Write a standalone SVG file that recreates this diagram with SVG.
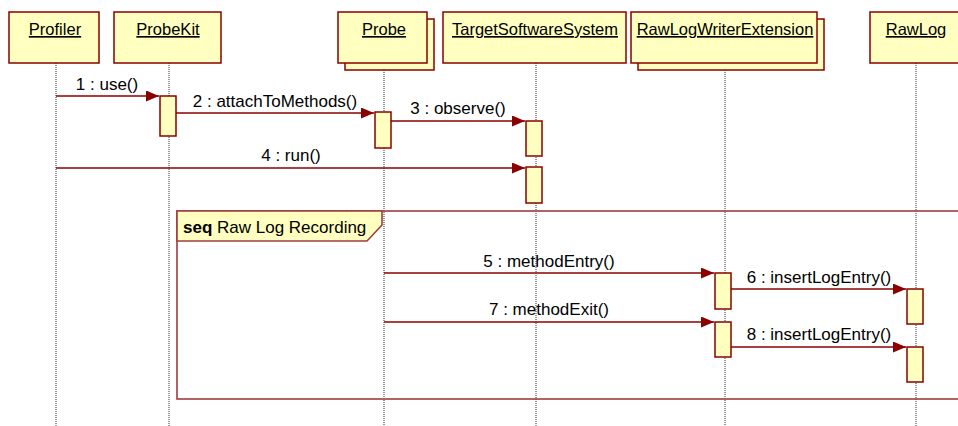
<svg xmlns="http://www.w3.org/2000/svg" width="958" height="426" viewBox="0 0 958 426">
  <style>
    .box { fill: #ffffc0; stroke: #8b0000; stroke-width: 1.5; }
    .act { fill: #ffffc0; stroke: #8b0000; stroke-width: 1.5; }
    .life { stroke: #333333; stroke-width: 1; stroke-dasharray: 1 1; fill: none; }
    .msg { stroke: #8b0000; stroke-width: 1.3; fill: none; }
    .frame { fill: none; stroke: #a03c3c; stroke-width: 1.6; }
    .tab { fill: #ffffc0; stroke: #a03c3c; stroke-width: 1.6; }
    text { font-family: "Liberation Sans", Arial, sans-serif; font-size: 17px; fill: #000; }
    .name { text-anchor: middle; text-decoration: underline; font-size: 16.5px; }
    .lbl { text-anchor: middle; }
  </style>
  <defs>
    <marker id="arrow" markerUnits="userSpaceOnUse" markerWidth="14" markerHeight="12" refX="13" refY="5.5" orient="auto">
      <path d="M0,0 L13,5.5 L0,11 Z" fill="#8b0000"/>
    </marker>
  </defs>
  <rect width="958" height="426" fill="#ffffff"/>

  <!-- lifelines -->
  <g id="lifelines">
    <line class="life" x1="56" y1="63" x2="56" y2="426"/>
    <line class="life" x1="169" y1="63" x2="169" y2="426"/>
    <line class="life" x1="384" y1="70" x2="384" y2="426"/>
    <line class="life" x1="536" y1="63" x2="536" y2="426"/>
    <line class="life" x1="725" y1="70" x2="725" y2="426"/>
    <line class="life" x1="916" y1="63" x2="916" y2="426"/>
  </g>

  <!-- combined fragment -->
  <g id="seq-frame">
    <rect class="frame" x="177" y="211" width="800" height="188"/>
    <polygon class="tab" points="177,211 382,211 382,225 367,241 177,241"/>
    <text x="183" y="233" font-size="16px"><tspan font-weight="bold">seq</tspan> Raw Log Recording</text>
  </g>

  <!-- participants -->
  <g id="profiler">
    <rect class="box" x="9" y="12" width="90" height="51"/>
    <text class="name" x="55" y="35">Profiler</text>
  </g>
  <g id="probekit">
    <rect class="box" x="114" y="12" width="107" height="51"/>
    <text class="name" x="168" y="35">ProbeKit</text>
    <rect class="act" x="160" y="96" width="16" height="40"/>
  </g>
  <g id="probe">
    <rect class="box" x="345" y="19" width="89" height="51"/>
    <rect class="box" x="338" y="12" width="89" height="51"/>
    <text class="name" x="384" y="35">Probe</text>
    <rect class="act" x="375" y="112" width="16" height="36"/>
  </g>
  <g id="targetsoftwaresystem">
    <rect class="box" x="443" y="12" width="183" height="51"/>
    <text class="name" x="535" y="35">TargetSoftwareSystem</text>
    <rect class="act" x="526" y="121" width="16" height="35"/>
    <rect class="act" x="526" y="167" width="16" height="36"/>
  </g>
  <g id="rawlogwriterextension">
    <rect class="box" x="638" y="19" width="186" height="51"/>
    <rect class="box" x="631" y="12" width="186" height="51"/>
    <text class="name" x="725" y="35">RawLogWriterExtension</text>
    <rect class="act" x="715" y="273" width="16" height="36"/>
    <rect class="act" x="715" y="322" width="16" height="35"/>
  </g>
  <g id="rawlog">
    <rect class="box" x="870" y="12" width="92" height="51"/>
    <text class="name" x="916" y="35">RawLog</text>
    <rect class="act" x="907" y="289" width="16" height="35"/>
    <rect class="act" x="907" y="347" width="16" height="35"/>
  </g>

  <!-- messages -->
  <g id="messages">
    <line class="msg" x1="56" y1="96" x2="159" y2="96" marker-end="url(#arrow)"/>
    <text class="lbl" x="107" y="90">1 : use()</text>
    <line class="msg" x1="176" y1="113" x2="374" y2="113" marker-end="url(#arrow)"/>
    <text class="lbl" x="275" y="107">2 : attachToMethods()</text>
    <line class="msg" x1="391" y1="121" x2="525" y2="121" marker-end="url(#arrow)"/>
    <text class="lbl" x="458" y="114">3 : observe()</text>
    <line class="msg" x1="56" y1="168" x2="525" y2="168" marker-end="url(#arrow)"/>
    <text class="lbl" x="291" y="161">4 : run()</text>
    <line class="msg" x1="384" y1="273" x2="714" y2="273" marker-end="url(#arrow)"/>
    <text class="lbl" x="549" y="267">5 : methodEntry()</text>
    <line class="msg" x1="731" y1="289" x2="906" y2="289" marker-end="url(#arrow)"/>
    <text class="lbl" x="819" y="283">6 : insertLogEntry()</text>
    <line class="msg" x1="384" y1="322" x2="714" y2="322" marker-end="url(#arrow)"/>
    <text class="lbl" x="549" y="315">7 : methodExit()</text>
    <line class="msg" x1="731" y1="347" x2="906" y2="347" marker-end="url(#arrow)"/>
    <text class="lbl" x="819" y="340">8 : insertLogEntry()</text>
  </g>
</svg>
